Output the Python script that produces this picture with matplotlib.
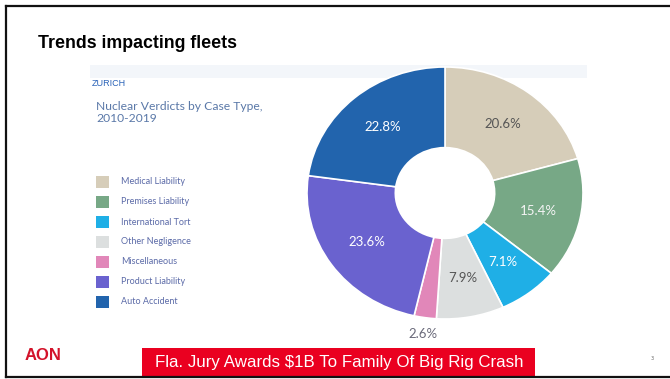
import matplotlib.pyplot as plt
from matplotlib.patches import Rectangle
from matplotlib.lines import Line2D
import numpy as np

# Nuclear verdicts by case type, 2010-2019 (share, %)
case_types = ['Medical Liability', 'Premises Liability', 'International Tort',
              'Other Negligence', 'Miscellaneous', 'Product Liability', 'Auto Accident']
shares = [20.6, 15.4, 7.1, 7.9, 2.6, 23.6, 22.8]
colors = ['#D6CDB9', '#77A886', '#1FAFE6', '#DCDFDF', '#E187B9', '#6A62CF', '#2264AD']
label_colors = ['#555555', '#F4F4F4', '#FFFFFF', '#555555', '#6A6A7A', '#FFFFFF', '#FFFFFF']

W, H = 670, 379
fig = plt.figure(figsize=(W / 100, H / 100), dpi=100)
fig.patch.set_facecolor('white')


def px(x, y):
    # pixel position (from top-left) -> figure fraction
    return x / W, 1 - y / H


# slide frame
for xs, ys in [((6, 6), (6, 377)), ((6, 670), (6, 6)), ((6, 670), (377, 377))]:
    fx = [x / W for x in xs]
    fy = [1 - y / H for y in ys]
    fig.add_artist(Line2D(fx, fy, color='#111111', lw=1.6))

# title
fig.text(*px(38, 44), 'Trends impacting fleets', fontsize=12.8, fontweight='bold',
         family='Liberation Sans', va='center', ha='left', color='black')

# light band at top of the chart image (behind the donut)
x0, y0 = px(90, 78)
fig.add_artist(Rectangle((x0, y0), (587 - 90) / W, 13 / H, transform=fig.transFigure,
                         facecolor='#F3F6FA', edgecolor='none', zorder=-1))

fig.text(*px(92, 83), 'ZURICH', fontsize=6.5, color='#2A63B8', family='Liberation Sans',
         va='center', ha='left')
fig.text(*px(96, 106), 'Nuclear Verdicts by Case Type,', fontsize=8.7, color='#5A78A8',
         family='Lato', va='center', ha='left')
fig.text(*px(96, 119), '2010-2019', fontsize=8.7, color='#5A78A8',
         family='Lato', va='center', ha='left')

# legend
for i, (name, c) in enumerate(zip(case_types, colors)):
    yc = 182 + 20 * i
    lx, ly = px(96, yc + 6)
    fig.add_artist(Rectangle((lx, ly), 13 / W, 12 / H, transform=fig.transFigure,
                             facecolor=c, edgecolor='none'))
    fig.text(*px(121, yc), name, fontsize=6.5, color='#5C6BA8', family='Lato',
             va='center', ha='left')

# donut
cx, cy, rx, ry = 445, 193, 138, 126
ax = fig.add_axes([(cx - rx) / W, (H - cy - ry) / H, 2 * rx / W, 2 * ry / H])
wedges, texts, autotexts = ax.pie(shares, colors=colors, startangle=90, counterclock=False,
                                  autopct='%1.1f%%', pctdistance=0.69,
                                  wedgeprops=dict(width=0.64, edgecolor='white', linewidth=1.2))
for t, c in zip(autotexts, label_colors):
    t.set_color(c)
    t.set_fontsize(9.5)
    t.set_family('Lato')

# the small slice gets its label outside the ring
small = int(np.argmin(shares))
w = wedges[small]
ang = np.deg2rad((w.theta1 + w.theta2) / 2)
autotexts[small].set_position((1.13 * np.cos(ang), 1.13 * np.sin(ang)))

ax.set_aspect('auto')
ax.set_xlim(-1, 1)
ax.set_ylim(-1, 1)
ax.axis('off')

# footer
fig.text(*px(25, 355), 'AON', fontsize=12, fontweight='bold', color='#D3132A',
         family='Liberation Sans', va='center', ha='left')
bx, by = px(142, 376)
fig.add_artist(Rectangle((bx, by), (535 - 142) / W, 28 / H, transform=fig.transFigure,
                         facecolor='#EA0020', edgecolor='none'))
fig.text(*px(339, 362), 'Fla. Jury Awards $1B To Family Of Big Rig Crash', fontsize=12.2,
         color='white', family='Liberation Sans', va='center', ha='center')
fig.text(*px(652, 359), '3', fontsize=3.5, color='#666666', va='center', ha='center')

fig.savefig('out.png', dpi=100)
